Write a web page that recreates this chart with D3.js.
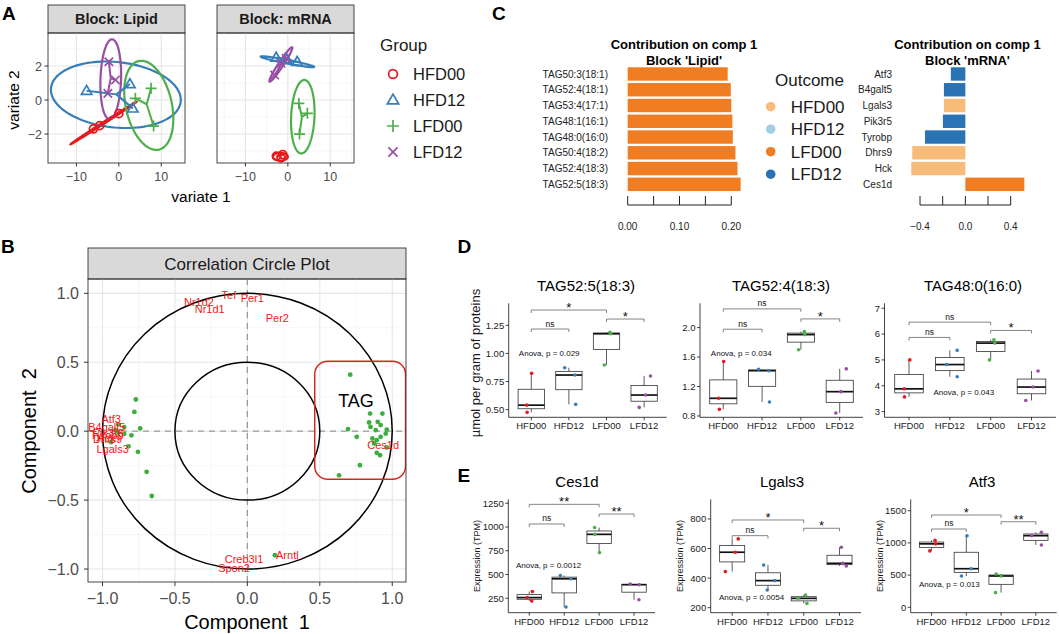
<!DOCTYPE html>
<html>
<head>
<meta charset="utf-8">
<script src="https://cdn.jsdelivr.net/npm/d3@7"></script>
<style>
  body { margin: 0; background: #fff; }
  svg text { font-family: "Liberation Sans", Arial, sans-serif; }
</style>
</head>
<body>
<script>
// ---------- data ----------
const groups = ["HFD00", "HFD12", "LFD00", "LFD12"];
const groupColors = ["#E41A1C", "#377EB8", "#4DAF4A", "#984EA3"];
const groupShapes = ["circle", "triangle", "plus", "cross"];

// A: sample scores (3 samples per group)
const sampleGroup = ["HFD00", "HFD00", "HFD00", "HFD12", "HFD12", "HFD12",
                     "LFD00", "LFD00", "LFD00", "LFD12", "LFD12", "LFD12"];
const lipidVar1 = [-6.0, -4.5, 0.0, -7.6, 2.6, 3.3, 7.6, 8.2, 3.9, -2.35, -0.8, -2.6];
const lipidVar2 = [-1.7, -1.5, -0.8, 0.55, 0.94, -0.49, 0.69, -1.53, 0.1, 2.25, 1.18, 0.39];
const mrnaVar1 = [-2.7, -1.2, -1.6, -2.75, -0.24, 2.2, 2.6, 4.6, 2.75, -3.1, -1.6, -0.4];
const mrnaVar2 = [-3.3, -3.2, -3.4, 2.5, 2.39, 2.25, -0.2, -0.78, -2.0, 1.47, 2.16, 2.45];
// confidence ellipses: centre x, centre y, semi-axis 1 (x, y), semi-axis 2 (x, y), in variate units
const lipidEllipses = [
  [-3.6, -1.35, 7.8, 1.25, -0.08, 0.05],
  [-0.7, 0.31, 15.3, -0.24, -0.47, 1.94],
  [7.06, -0.31, -2.4, 2.6, 5.27, 0.31],
  [-1.9, 1.22, 0.31, 2.35, 2.43, -0.02]
];
const mrnaEllipses = [
  [-1.75, -3.33, 1.75, 0.0, 0.0, 0.23],
  [-0.1, 2.25, 6.3, -0.3, -0.09, 0.11],
  [3.53, -0.98, 0.39, 2.16, 2.75, -0.03],
  [-1.65, 2.09, 2.67, 1.01, 0.49, -0.08]
];

// B: correlation circle
const lipidCorX = [-0.77, -0.78, -0.74, -0.89, -0.85, -0.85, -0.80, -0.94, -0.82, -0.755, -0.695, -0.66, -0.89, -0.91,
  0.71, 0.847, 0.932, 0.84, 0.90, 0.85, 0.92, 0.962, 0.886, 0.695, 0.955, 0.755, 0.863, 0.893, 0.875, 0.92,
  0.962, 0.893, 0.916, 0.777, 0.633, 0.19];
const lipidCorY = [0.23, 0.14, 0.02, 0.05, 0.03, -0.02, -0.03, -0.08, -0.11, -0.15, -0.295, -0.47, -0.01, 0.01,
  0.41, 0.128, 0.128, 0.063, 0.068, 0.031, 0.044, 0.012, 0.007, 0.015, -0.017, -0.041, -0.053, -0.065, -0.089, -0.041,
  -0.118, -0.157, -0.174, -0.247, -0.32, -0.90];
const mrnaGenes = ["Nr1d2", "Tef", "Per1", "Nr1d1", "Per2", "Atf3", "B4galt5", "Pik3r5", "Tyrobp", "Hck",
                   "Dhrs9", "Lgals3", "Ces1d", "Arntl", "Creb3l1", "Spon2"];
const mrnaCorX = [-0.334, -0.127, 0.034, -0.26, 0.207, -0.94, -0.97, -0.96, -0.97, -0.975, -0.965, -0.93, 0.937, 0.276, -0.023, -0.092];
const mrnaCorY = [0.938, 0.987, 0.963, 0.885, 0.818, 0.092, 0.031, -0.01, -0.025, -0.05, -0.055, -0.126, -0.097, -0.895, -0.929, -0.996];

// C: loadings
const lipidFeatures = ["TAG50:3(18:1)", "TAG52:4(18:1)", "TAG53:4(17:1)", "TAG48:1(16:1)",
                       "TAG48:0(16:0)", "TAG50:4(18:2)", "TAG52:4(18:3)", "TAG52:5(18:3)"];
const lipidContrib = [0.193, 0.199, 0.200, 0.202, 0.203, 0.208, 0.212, 0.218];
const lipidOutcome = ["LFD00", "LFD00", "LFD00", "LFD00", "LFD00", "LFD00", "LFD00", "LFD00"];
const mrnaFeatures = ["Atf3", "B4galt5", "Lgals3", "Pik3r5", "Tyrobp", "Dhrs9", "Hck", "Ces1d"];
const mrnaContrib = [-0.128, -0.189, -0.189, -0.198, -0.356, -0.468, -0.477, 0.52];
const mrnaOutcome = ["LFD12", "LFD12", "HFD00", "LFD12", "LFD12", "HFD00", "HFD00", "LFD00"];
const outcomeColors = ["#F8BC7A", "#A6CEE3", "#F17D23", "#2A73B4"];

// D, E: per-group values (HFD00, HFD12, LFD00, LFD12)
const boxTitles = ["TAG52:5(18:3)", "TAG52:4(18:3)", "TAG48:0(16:0)", "Ces1d", "Lgals3", "Atf3"];
const tag525 = [[0.823, 0.54, 0.476], [0.873, 0.808, 0.547], [1.188, 1.175, 0.897], [0.799, 0.63, 0.52]];
const tag524 = [[1.54, 1.04, 0.89], [1.434, 1.415, 0.99], [1.946, 1.905, 1.70], [1.44, 1.13, 0.84]];
const tag480 = [[5.0, 3.88, 3.57], [5.37, 4.82, 4.35], [5.78, 5.65, 5.0], [4.57, 3.95, 3.43]];
const ces1d = [[320, 257, 222], [490, 455, 158], [994, 923, 731], [400, 393, 235]];
const lgals3 = [[665, 575, 444], [489, 383, 320], [286, 263, 229], [609, 500, 482]];
const atf3 = [[1042, 985, 876], [1110, 599, 486], [517, 486, 227], [1165, 1112, 967]];
// horizontal jitter of each point, as a fraction of the group spacing
const tag525Jit = [[0.01, -0.12, -0.11], [-0.11, 0.16, 0.18], [0.09, 0.11, -0.06], [0.17, 0.04, -0.13]];
const tag524Jit = [[0.01, -0.12, -0.10], [-0.09, 0.17, 0.19], [0.09, 0.10, -0.06], [0.17, 0.03, -0.10]];
const tag480Jit = [[0.02, -0.12, -0.11], [0.18, -0.08, 0.18], [0.08, 0.10, -0.03], [0.16, 0.04, -0.14]];
const ces1dJit = [[0.09, -0.06, 0.07], [-0.11, 0.19, 0.05], [-0.13, -0.12, 0.01], [-0.11, 0.15, 0.14]];
const lgals3Jit = [[0.17, 0.09, -0.19], [-0.12, 0.19, -0.02], [0.05, -0.16, 0.09], [0.05, 0.09, 0.19]];
const atf3Jit = [[0.10, 0.12, -0.05], [0.02, 0.14, -0.14], [-0.14, 0.0, -0.16], [0.16, -0.12, 0.16]];
const sigPairs = [["HFD00", "HFD12"], ["HFD00", "LFD00"], ["LFD00", "LFD12"]];
const tag525Sig = ["ns", "*", "*"];
const tag524Sig = ["ns", "ns", "*"];
const tag480Sig = ["ns", "ns", "*"];
const ces1dSig = ["ns", "**", "**"];
const lgals3Sig = ["ns", "*", "*"];
const atf3Sig = ["ns", "*", "**"];
const anovaP = ["0.029", "0.034", "0.043", "0.0012", "0.0054", "0.013"];

// ---------- drawing ----------
const svg = d3.select("body").append("svg").attr("width", 1059).attr("height", 634);
svg.append("rect").attr("width", 1059).attr("height", 634).attr("fill", "#fff");

function letter(t, x, y) {
  svg.append("text").attr("x", x).attr("y", y).attr("font-weight", "bold").attr("font-size", 19).text(t);
}
letter("A", 2, 20); letter("B", 1, 253); letter("C", 492, 19.5); letter("D", 457.5, 253); letter("E", 457.5, 482);

function drawShape(g, gi, cx, cy, s) {
  const c = groupColors[gi];
  const p = g.append("path").attr("fill", "none").attr("stroke", c).attr("stroke-width", 1.7);
  switch (groupShapes[gi]) {
    case "circle":
      p.attr("d", d3.arc()({innerRadius: 0, outerRadius: 4 * s, startAngle: 0, endAngle: 2 * Math.PI})).attr("transform", `translate(${cx},${cy})`);
      break;
    case "triangle":
      p.attr("d", `M${cx},${cy - 5.3 * s}L${cx + 5.2 * s},${cy + 3.6 * s}L${cx - 5.2 * s},${cy + 3.6 * s}Z`);
      break;
    case "plus":
      p.attr("d", `M${cx - 5.5 * s},${cy}H${cx + 5.5 * s}M${cx},${cy - 5.5 * s}V${cy + 5.5 * s}`);
      break;
    default:
      p.attr("d", `M${cx - 4.2 * s},${cy - 4.2 * s}L${cx + 4.2 * s},${cy + 4.2 * s}M${cx - 4.2 * s},${cy + 4.2 * s}L${cx + 4.2 * s},${cy - 4.2 * s}`);
  }
}

// ----- Panel A -----
const aY = d3.scaleLinear().domain([-3.7, 3.94]).range([163, 33]);
const aFacets = [
  {title: "Block: Lipid", x0: 48, x1: 185, v1: lipidVar1, v2: lipidVar2, ell: lipidEllipses},
  {title: "Block: mRNA", x0: 217, x1: 354, v1: mrnaVar1, v2: mrnaVar2, ell: mrnaEllipses}
];
aFacets.forEach((f, fi) => {
  const x = d3.scaleLinear().domain([-16.7, 15.6]).range([f.x0, f.x1]);
  const g = svg.append("g");
  g.append("rect").attr("x", f.x0).attr("y", 5).attr("width", f.x1 - f.x0).attr("height", 28)
    .attr("fill", "#D9D9D9").attr("stroke", "#333").attr("stroke-width", 0.9);
  g.append("text").attr("x", (f.x0 + f.x1) / 2).attr("y", 24).attr("text-anchor", "middle")
    .attr("font-weight", "bold").attr("font-size", 14.5).attr("fill", "#1a1a1a").text(f.title);
  // grid
  [-15, -5, 5, 15].forEach(v => g.append("line").attr("x1", x(v)).attr("x2", x(v)).attr("y1", 33).attr("y2", 163).attr("stroke", "#F2F2F2").attr("stroke-width", 0.6));
  [-3, -1, 1, 3].forEach(v => g.append("line").attr("y1", aY(v)).attr("y2", aY(v)).attr("x1", f.x0).attr("x2", f.x1).attr("stroke", "#F2F2F2").attr("stroke-width", 0.6));
  [-10, 0, 10].forEach(v => g.append("line").attr("x1", x(v)).attr("x2", x(v)).attr("y1", 33).attr("y2", 163).attr("stroke", "#E6E6E6").attr("stroke-width", 1.1));
  [-2, 0, 2].forEach(v => g.append("line").attr("y1", aY(v)).attr("y2", aY(v)).attr("x1", f.x0).attr("x2", f.x1).attr("stroke", "#E6E6E6").attr("stroke-width", 1.1));

  svg.append("clipPath").attr("id", "clipA" + fi).append("rect")
    .attr("x", f.x0).attr("y", 33).attr("width", f.x1 - f.x0).attr("height", 130);
  const pg = g.append("g").attr("clip-path", `url(#clipA${fi})`);

  // ellipses
  f.ell.forEach((e, gi) => {
    const pts = d3.range(0, 360, 3).map(t => {
      const a = t * Math.PI / 180;
      return [x(e[0] + e[2] * Math.cos(a) + e[4] * Math.sin(a)), aY(e[1] + e[3] * Math.cos(a) + e[5] * Math.sin(a))];
    });
    pg.append("path").attr("d", d3.line()(pts) + "Z").attr("fill", "none")
      .attr("stroke", groupColors[gi]).attr("stroke-width", 2.2);
  });
  // star lines to group centroid
  groups.forEach((grp, gi) => {
    const idx = sampleGroup.map((s, i) => s === grp ? i : -1).filter(i => i >= 0);
    const cx = d3.mean(idx, i => f.v1[i]), cy = d3.mean(idx, i => f.v2[i]);
    idx.forEach(i => pg.append("line").attr("x1", x(cx)).attr("y1", aY(cy))
      .attr("x2", x(f.v1[i])).attr("y2", aY(f.v2[i])).attr("stroke", groupColors[gi]).attr("stroke-width", 2));
  });
  sampleGroup.forEach((s, i) => drawShape(pg, groups.indexOf(s), x(f.v1[i]), aY(f.v2[i]), 1));

  g.append("rect").attr("x", f.x0).attr("y", 33).attr("width", f.x1 - f.x0).attr("height", 130)
    .attr("fill", "none").attr("stroke", "#333").attr("stroke-width", 0.9);
  [-10, 0, 10].forEach(v => {
    g.append("line").attr("x1", x(v)).attr("x2", x(v)).attr("y1", 163).attr("y2", 166.5).attr("stroke", "#333");
    g.append("text").attr("x", x(v)).attr("y", 181).attr("text-anchor", "middle").attr("font-size", 12.5)
      .attr("fill", "#4D4D4D").text(d3.format("d")(v));
  });
  if (fi === 0) {
    [-2, 0, 2].forEach(v => {
      g.append("line").attr("x1", f.x0 - 3.5).attr("x2", f.x0).attr("y1", aY(v)).attr("y2", aY(v)).attr("stroke", "#333");
      g.append("text").attr("x", 42).attr("y", aY(v) + 4.5).attr("text-anchor", "end").attr("font-size", 12.5)
        .attr("fill", "#4D4D4D").text(d3.format("d")(v));
    });
  }
});
svg.append("text").attr("x", 201).attr("y", 202).attr("text-anchor", "middle").attr("font-size", 15.5).text("variate 1");
svg.append("text").attr("transform", "translate(19,100) rotate(-90)").attr("text-anchor", "middle").attr("font-size", 15.5).text("variate 2");
// legend
svg.append("text").attr("x", 380).attr("y", 51).attr("font-size", 17).attr("fill", "#1a1a1a").text("Group");
groups.forEach((grp, gi) => {
  const y = 74 + gi * 26;
  drawShape(svg, gi, 393, y, 1.1);
  svg.append("text").attr("x", 413).attr("y", y + 6).attr("font-size", 16.5).attr("fill", "#1a1a1a").text(grp);
});

// ----- Panel B -----
const bX = d3.scaleLinear().domain([-1.10, 1.095]).range([88, 406]);
const bY = d3.scaleLinear().domain([-1.094, 1.104]).range([582, 279]);
const bg = svg.append("g");
bg.append("rect").attr("x", 88).attr("y", 248).attr("width", 318).attr("height", 31)
  .attr("fill", "#D9D9D9").attr("stroke", "#333").attr("stroke-width", 0.9);
bg.append("text").attr("x", 247).attr("y", 270).attr("text-anchor", "middle").attr("font-size", 17)
  .attr("fill", "#1a1a1a").text("Correlation Circle Plot");
[-0.75, -0.25, 0.25, 0.75].forEach(v => {
  bg.append("line").attr("x1", bX(v)).attr("x2", bX(v)).attr("y1", 279).attr("y2", 582).attr("stroke", "#F2F2F2").attr("stroke-width", 0.6);
  bg.append("line").attr("y1", bY(v)).attr("y2", bY(v)).attr("x1", 88).attr("x2", 406).attr("stroke", "#F2F2F2").attr("stroke-width", 0.6);
});
[-1, -0.5, 0, 0.5, 1].forEach(v => {
  bg.append("line").attr("x1", bX(v)).attr("x2", bX(v)).attr("y1", 279).attr("y2", 582).attr("stroke", "#E6E6E6").attr("stroke-width", 1.1);
  bg.append("line").attr("y1", bY(v)).attr("y2", bY(v)).attr("x1", 88).attr("x2", 406).attr("stroke", "#E6E6E6").attr("stroke-width", 1.1);
});
svg.append("clipPath").attr("id", "clipB").append("rect").attr("x", 88).attr("y", 279).attr("width", 318).attr("height", 303);
const bp = bg.append("g").attr("clip-path", "url(#clipB)");
bp.append("line").attr("x1", bX(0)).attr("x2", bX(0)).attr("y1", 279).attr("y2", 582)
  .attr("stroke", "#9A9A9A").attr("stroke-width", 1.3).attr("stroke-dasharray", "6,5");
bp.append("line").attr("y1", bY(0)).attr("y2", bY(0)).attr("x1", 88).attr("x2", 406)
  .attr("stroke", "#9A9A9A").attr("stroke-width", 1.3).attr("stroke-dasharray", "6,5");
[1, 0.5].forEach(r => bp.append("ellipse").attr("cx", bX(0)).attr("cy", bY(0))
  .attr("rx", bX(r) - bX(0)).attr("ry", bY(0) - bY(r)).attr("fill", "none").attr("stroke", "#000").attr("stroke-width", 1.5));
bp.selectAll(".lip").data(lipidCorX).enter().append("circle")
  .attr("cx", d => bX(d)).attr("cy", (d, i) => bY(lipidCorY[i])).attr("r", 2.4).attr("fill", "#3DAE3D");
bp.selectAll(".gene").data(mrnaGenes).enter().append("text")
  .attr("x", (d, i) => bX(mrnaCorX[i])).attr("y", (d, i) => bY(mrnaCorY[i]) + 4)
  .attr("text-anchor", "middle").attr("font-size", 11).attr("fill", "#F01818").text(d => d);
bp.append("rect").attr("x", bX(0.465)).attr("y", bY(0.508)).attr("width", bX(1.092) - bX(0.465))
  .attr("height", bY(-0.349) - bY(0.508)).attr("rx", 13).attr("fill", "none").attr("stroke", "#D7261E").attr("stroke-width", 1.5);
bp.append("text").attr("x", 356).attr("y", 406.5).attr("text-anchor", "middle").attr("font-size", 18).text("TAG");
bg.append("rect").attr("x", 88).attr("y", 279).attr("width", 318).attr("height", 303)
  .attr("fill", "none").attr("stroke", "#333").attr("stroke-width", 0.9);
const f1 = d3.format(".1f");
[-1, -0.5, 0, 0.5, 1].forEach(v => {
  bg.append("line").attr("x1", bX(v)).attr("x2", bX(v)).attr("y1", 582).attr("y2", 586).attr("stroke", "#333");
  bg.append("text").attr("x", bX(v)).attr("y", 604).attr("text-anchor", "middle").attr("font-size", 16).attr("fill", "#4D4D4D").text(f1(v));
  bg.append("line").attr("x1", 84).attr("x2", 88).attr("y1", bY(v)).attr("y2", bY(v)).attr("stroke", "#333");
  bg.append("text").attr("x", 79).attr("y", bY(v) + 5.6).attr("text-anchor", "end").attr("font-size", 16).attr("fill", "#4D4D4D").text(f1(v));
});
bg.append("text").attr("x", 247).attr("y", 629).attr("text-anchor", "middle").attr("font-size", 20)
  .style("white-space", "pre").text("Component  1");
bg.append("text").attr("transform", "translate(35.5,431) rotate(-90)").attr("text-anchor", "middle")
  .attr("font-size", 20).style("white-space", "pre").text("Component  2");

// ----- Panel C -----
const outColor = d3.scaleOrdinal(groups, outcomeColors);
const cY = d3.scaleBand().range([66.1, 192.2]).paddingInner(0.15).paddingOuter(0.075);
function loadings(features, values, outcome, x, labelX, titleX, ticks, labelTicks, fmt) {
  const y = cY.copy().domain(features);
  const g = svg.append("g");
  g.append("text").attr("x", titleX).attr("y", 49).attr("text-anchor", "middle").attr("font-weight", "bold")
    .attr("font-size", 13).text("Contribution on comp 1");
  g.append("text").attr("x", titleX).attr("y", 64.5).attr("text-anchor", "middle").attr("font-weight", "bold")
    .attr("font-size", 13).text(titleX < 800 ? "Block 'Lipid'" : "Block 'mRNA'");
  g.selectAll(".bar").data(features).enter().append("rect")
    .attr("x", (d, i) => x(Math.min(0, values[i]))).attr("y", d => y(d))
    .attr("width", (d, i) => Math.abs(x(values[i]) - x(0))).attr("height", y.bandwidth())
    .attr("fill", (d, i) => outColor(outcome[i]));
  g.selectAll(".lab").data(features).enter().append("text")
    .attr("x", labelX).attr("y", d => y(d) + y.bandwidth() / 2 + 3.6).attr("text-anchor", "end")
    .attr("font-size", 10).attr("fill", "#222").text(d => d);
  const ext = d3.extent(ticks);
  g.append("line").attr("x1", x(ext[0])).attr("x2", x(ext[1])).attr("y1", 205).attr("y2", 205).attr("stroke", "#222");
  ticks.forEach(t => g.append("line").attr("x1", x(t)).attr("x2", x(t)).attr("y1", 196).attr("y2", 205).attr("stroke", "#222"));
  labelTicks.forEach(t => g.append("text").attr("x", x(t)).attr("y", 229.5).attr("text-anchor", "middle")
    .attr("font-size", 10).attr("fill", "#222").text(fmt(t)));
}
loadings(lipidFeatures, lipidContrib, lipidOutcome, d3.scaleLinear().domain([0, 0.2]).range([627.7, 731.3]),
  608, 684, [0, 0.05, 0.1, 0.15, 0.2], [0, 0.1, 0.2], d3.format(".2f"));
loadings(mrnaFeatures, mrnaContrib, mrnaOutcome, d3.scaleLinear().domain([-0.4, 0.4]).range([920, 1010.7]),
  892, 967.5, [-0.4, -0.2, 0, 0.2, 0.4], [-0.4, 0, 0.4], d3.format(".1f"));
svg.append("text").attr("x", 775).attr("y", 86).attr("font-size", 17).attr("fill", "#1a1a1a").text("Outcome");
groups.forEach((grp, gi) => {
  const y = 106.7 + gi * 22.5;
  svg.append("circle").attr("cx", 770.7).attr("cy", y).attr("r", 4.8).attr("fill", outcomeColors[gi]);
  svg.append("text").attr("x", 790.7).attr("y", y + 6).attr("font-size", 17).attr("fill", "#1a1a1a").text(grp);
});

// ----- Panels D and E -----
const boxSets = [tag525, tag524, tag480, ces1d, lgals3, atf3];
const jitSets = [tag525Jit, tag524Jit, tag480Jit, ces1dJit, lgals3Jit, atf3Jit];
const sigSets = [tag525Sig, tag524Sig, tag480Sig, ces1dSig, lgals3Sig, atf3Sig];
const boxLayout = [
  {x0: 508.7, x1: 666.7, y0: 303.3, y1: 417.3, dom: [0.432, 1.446], ticks: [0.5, 0.75, 1, 1.25], fmt: ".2f", tx: 586, ty: 291, sigY: [1.217, 1.386, 1.306], anova: [-0.33, 1.0]},
  {x0: 700, x1: 863, y0: 303.3, y1: 417.3, dom: [0.782, 2.33], ticks: [0.8, 1.2, 1.6, 2.0], fmt: ".1f", tx: 781, ty: 291, sigY: [1.978, 2.254, 2.118], anova: [-0.32, 1.65]},
  {x0: 884.5, x1: 1056, y0: 303.3, y1: 417.3, dom: [2.78, 7.19], ticks: [3, 4, 5, 6, 7], fmt: "d", tx: 973, ty: 291, sigY: [5.87, 6.46, 6.14], anova: [0.6, 3.77]},
  {x0: 508.3, x1: 655, y0: 499.3, y1: 612.7, dom: [98, 1292], ticks: [250, 500, 750, 1000, 1250], fmt: "d", tx: 577, ty: 487, sigY: [1032, 1239, 1137], anova: [-0.38, 600]},
  {x0: 710.7, x1: 861, y0: 499.3, y1: 612.7, dom: [166, 933], ticks: [200, 400, 600, 800], fmt: "d", tx: 782, ty: 487, sigY: [687, 793, 737], anova: [-0.37, 271]},
  {x0: 910.7, x1: 1056.7, y0: 499.3, y1: 612.7, dom: [-84, 1677], ticks: [0, 500, 1000, 1500], fmt: "d", tx: 982, ty: 487, sigY: [1216, 1433, 1329], anova: [-0.36, 362]}
];

boxLayout.forEach((L, pi) => {
  const g = svg.append("g");
  const x = d3.scalePoint().domain(groups).range([L.x0, L.x1]).padding(0.6);
  const y = d3.scaleLinear().domain(L.dom).range([L.y1, L.y0]);
  const step = x.step(), bw = step * 0.7;
  const data = boxSets[pi];

  g.append("text").attr("x", L.tx).attr("y", L.ty).attr("text-anchor", "middle").attr("font-size", 15).text(boxTitles[pi]);

  groups.forEach((grp, gi) => {
    const vals = data[gi].slice().sort(d3.ascending);
    const q1 = d3.quantile(vals, 0.25), med = d3.quantile(vals, 0.5), q3 = d3.quantile(vals, 0.75);
    const cx = x(grp);
    g.append("line").attr("x1", cx).attr("x2", cx).attr("y1", y(vals[vals.length - 1])).attr("y2", y(q3)).attr("stroke", "#333").attr("stroke-width", 0.8);
    g.append("line").attr("x1", cx).attr("x2", cx).attr("y1", y(vals[0])).attr("y2", y(q1)).attr("stroke", "#333").attr("stroke-width", 0.8);
    g.append("rect").attr("x", cx - bw / 2).attr("y", y(q3)).attr("width", bw).attr("height", Math.max(0.5, y(q1) - y(q3)))
      .attr("fill", "#fff").attr("stroke", "#333").attr("stroke-width", 0.8);
    g.append("line").attr("x1", cx - bw / 2).attr("x2", cx + bw / 2).attr("y1", y(med)).attr("y2", y(med)).attr("stroke", "#111").attr("stroke-width", 1.7);
    data[gi].forEach((v, k) => g.append("circle").attr("cx", cx + jitSets[pi][gi][k] * step).attr("cy", y(v))
      .attr("r", 1.8).attr("fill", groupColors[gi]));
  });

  // significance brackets
  sigPairs.forEach((pair, k) => {
    const xa = x(pair[0]), xb = x(pair[1]), yy = y(L.sigY[k]), lab = sigSets[pi][k];
    g.append("path").attr("d", `M${xa},${yy + 3}V${yy}H${xb}V${yy + 3}`).attr("fill", "none")
      .attr("stroke", "#666").attr("stroke-width", 0.8);
    g.append("text").attr("x", (xa + xb) / 2).attr("y", lab === "ns" ? yy - 2.5 : yy + 2)
      .attr("text-anchor", "middle").attr("font-size", lab === "ns" ? 8.5 : 13).attr("fill", "#111").text(lab);
  });
  g.append("text").attr("x", x("HFD00") + L.anova[0] * step).attr("y", y(L.anova[1]) + 3)
    .attr("font-size", 8).attr("fill", "#111").text("Anova, p = " + anovaP[pi]);

  // axes
  g.append("line").attr("x1", L.x0).attr("x2", L.x0).attr("y1", L.y0).attr("y2", L.y1).attr("stroke", "#111").attr("stroke-width", 0.8);
  g.append("line").attr("x1", L.x0).attr("x2", L.x1).attr("y1", L.y1).attr("y2", L.y1).attr("stroke", "#111").attr("stroke-width", 0.8);
  const fmt = d3.format(L.fmt);
  L.ticks.forEach(t => {
    g.append("line").attr("x1", L.x0 - 3).attr("x2", L.x0).attr("y1", y(t)).attr("y2", y(t)).attr("stroke", "#111").attr("stroke-width", 0.8);
    g.append("text").attr("x", L.x0 - 4.5).attr("y", y(t) + 3.4).attr("text-anchor", "end").attr("font-size", 9.5).attr("fill", "#1a1a1a").text(fmt(t));
  });
  groups.forEach(grp => {
    g.append("line").attr("x1", x(grp)).attr("x2", x(grp)).attr("y1", L.y1).attr("y2", L.y1 + 3).attr("stroke", "#111").attr("stroke-width", 0.8);
    g.append("text").attr("x", x(grp)).attr("y", L.y1 + 12).attr("text-anchor", "middle").attr("font-size", 9.5).attr("fill", "#1a1a1a").text(grp);
  });
  if (pi >= 3) {
    g.append("text").attr("transform", `translate(${L.x0 - 28},556) rotate(-90)`).attr("text-anchor", "middle")
      .attr("font-size", 9).attr("fill", "#1a1a1a").text("Expression (TPM)");
  }
});
svg.append("text").attr("transform", "translate(479.5,363) rotate(-90)").attr("text-anchor", "middle")
  .attr("font-size", 13).attr("fill", "#1a1a1a").text("µmol per gram of proteins");
</script>
</body>
</html>
